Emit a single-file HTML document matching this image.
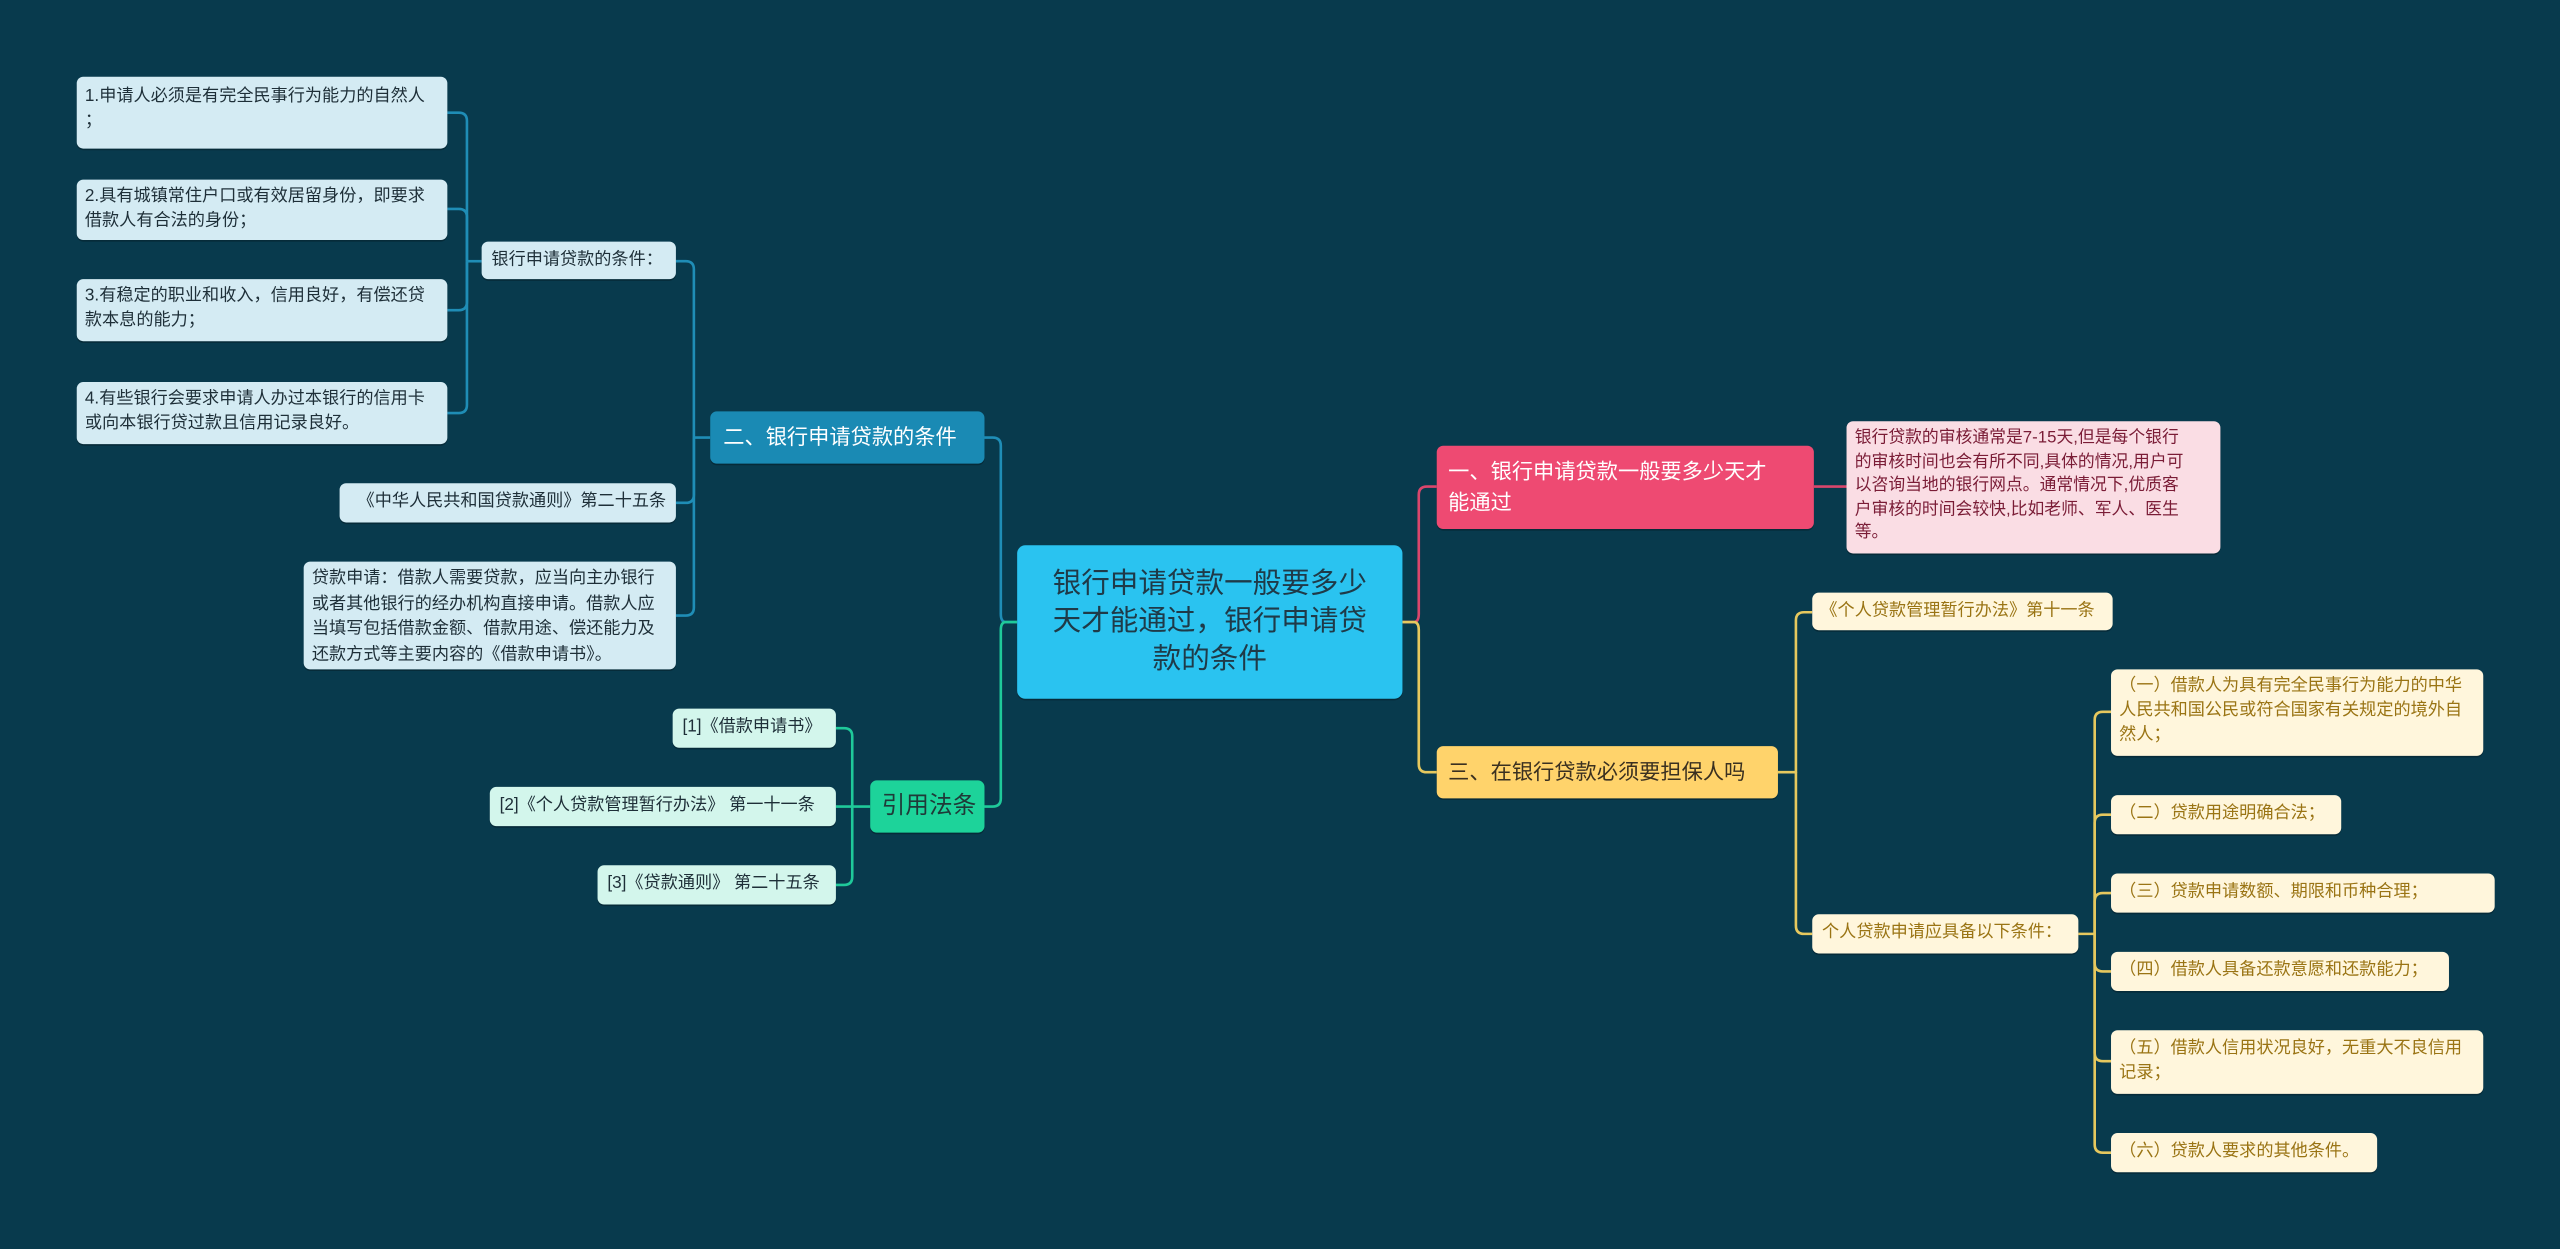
<!DOCTYPE html>
<html><head><meta charset="utf-8"><style>
html,body{margin:0;padding:0;background:#083a4d;width:2560px;height:1249px;overflow:hidden}
#c{position:absolute;left:0;top:0;width:1568px;height:765px;transform:scale(1.63265);transform-origin:0 0;font-family:"Liberation Sans","Noto Sans CJK SC",sans-serif}
.n{position:absolute;box-sizing:border-box;border-radius:4px;white-space:nowrap;font-size:10.5px;line-height:15px;padding:4px 6px;box-shadow:0 1px 0 rgba(0,0,0,.25)}
.lb{background:#d4ebf3;color:#1e2f38}
.y{background:#fff6dc;color:#9a7414}
.g{background:#d3f6ec;color:#1e2f38}
svg{position:absolute;left:0;top:0}
</style></head><body><div id="c">
<svg width="1568" height="765" fill="none" stroke-width="1.6" stroke-linejoin="round">
<!-- center to right -->
<path d="M859 381 H866 Q869 381 869 376 V303 Q869 298 874 298 H880" stroke="#d9466c"/>
<path d="M859 381 H866 Q869 381 869 386 V468 Q869 473 874 473 H880" stroke="#e6c85e"/>
<path d="M1111 298 H1131" stroke="#d9466c"/>
<!-- 三 children -->
<g stroke="#e6c85e">
<path d="M1089 473 H1100 V380 Q1100 375 1105 375 H1110"/>
<path d="M1100 473 V567 Q1100 572 1105 572 H1110"/>
<path d="M1273 572 H1283"/>
<path d="M1283 572 V441 Q1283 436 1288 436 H1293"/>
<path d="M1283 572 V504 Q1283 499 1288 499 H1293"/>
<path d="M1283 572 V552 Q1283 547 1288 547 H1293"/>
<path d="M1283 572 V590 Q1283 595 1288 595 H1293"/>
<path d="M1283 572 V645 Q1283 650 1288 650 H1293"/>
<path d="M1283 572 V701 Q1283 706 1288 706 H1293"/>
</g>
<!-- center to left -->
<path d="M623 381 H616 Q613 381 613 376 V273 Q613 268 608 268 H603" stroke="#1f8db6"/>
<path d="M623 381 H616 Q613 381 613 386 V489 Q613 494 608 494 H603" stroke="#1fc99a"/>
<g stroke="#1f8db6">
<path d="M435 268 H425"/>
<path d="M425 268 V165 Q425 160 420 160 H414"/>
<path d="M425 268 V303 Q425 308 420 308 H414"/>
<path d="M425 268 V372 Q425 377 420 377 H414"/>
<path d="M295 160 H286"/>
<path d="M286 160 V74 Q286 69 281 69 H274"/>
<path d="M286 160 V133 Q286 128 281 128 H274"/>
<path d="M286 160 V185 Q286 190 281 190 H274"/>
<path d="M286 160 V248 Q286 253 281 253 H274"/>
</g>
<g stroke="#1fc99a">
<path d="M533 494 H512"/>
<path d="M522 494 V451 Q522 446 517 446 H512"/>
<path d="M522 494 V537 Q522 542 517 542 H512"/>
</g>
</svg>

<div class="n" style="left:623px;top:334px;width:236px;height:94px;background:#2ac3f0;color:#1f3a48;font-size:17.5px;line-height:23px;text-align:center;padding:12px 10px;border-radius:5px">银行申请贷款一般要多少<br>天才能通过，银行申请贷<br>款的条件</div>

<div class="n" style="left:880px;top:273px;width:231px;height:51px;background:#ee4a72;color:#fff;font-size:13px;line-height:19px;padding:6px 7px">一、银行申请贷款一般要多少天才<br>能通过</div>
<div class="n" style="left:1131px;top:258px;width:229px;height:81px;background:#fadde4;color:#7a1c36;font-size:10.3px;line-height:14.6px;padding:4px 5px">银行贷款的审核通常是7-15天,但是每个银行<br>的审核时间也会有所不同,具体的情况,用户可<br>以咨询当地的银行网点。通常情况下,优质客<br>户审核的时间会较快,比如老师、军人、医生<br>等。</div>
<div class="n" style="left:880px;top:457px;width:209px;height:32px;background:#ffd36b;color:#3a3020;font-size:13px;line-height:20px;padding:6px 7px">三、在银行贷款必须要担保人吗</div>
<div class="n y" style="left:1110px;top:363px;width:184px;height:23px;padding:4px 5px">《个人贷款管理暂行办法》第十一条</div>
<div class="n y" style="left:1110px;top:560px;width:163px;height:24px;padding:4px 6px">个人贷款申请应具备以下条件：</div>
<div class="n y" style="left:1293px;top:410px;width:228px;height:53px;padding:3px 5px">（一）借款人为具有完全民事行为能力的中华<br>人民共和国公民或符合国家有关规定的境外自<br>然人；</div>
<div class="n y" style="left:1293px;top:487px;width:141px;height:24px;padding:4px 5px">（二）贷款用途明确合法；</div>
<div class="n y" style="left:1293px;top:535px;width:235px;height:24px;padding:4px 5px">（三）贷款申请数额、期限和币种合理；</div>
<div class="n y" style="left:1293px;top:583px;width:207px;height:24px;padding:4px 5px">（四）借款人具备还款意愿和还款能力；</div>
<div class="n y" style="left:1293px;top:631px;width:228px;height:39px;padding:4px 5px">（五）借款人信用状况良好，无重大不良信用<br>记录；</div>
<div class="n y" style="left:1293px;top:694px;width:163px;height:24px;padding:4px 5px">（六）贷款人要求的其他条件。</div>

<div class="n" style="left:435px;top:252px;width:168px;height:32px;background:#1a8ab4;color:#fff;font-size:13px;line-height:20px;padding:6px 8px">二、银行申请贷款的条件</div>
<div class="n lb" style="left:295px;top:148px;width:119px;height:23px;padding:4px 6px">银行申请贷款的条件：</div>
<div class="n lb" style="left:47px;top:47px;width:227px;height:44px;padding:5px 5px">1.申请人必须是有完全民事行为能力的自然人<br>；</div>
<div class="n lb" style="left:47px;top:110px;width:227px;height:37px;padding:3px 5px">2.具有城镇常住户口或有效居留身份，即要求<br>借款人有合法的身份；</div>
<div class="n lb" style="left:47px;top:171px;width:227px;height:38px;padding:3px 5px">3.有稳定的职业和收入，信用良好，有偿还贷<br>款本息的能力；</div>
<div class="n lb" style="left:47px;top:234px;width:227px;height:38px;padding:3px 5px">4.有些银行会要求申请人办过本银行的信用卡<br>或向本银行贷过款且信用记录良好。</div>
<div class="n lb" style="left:208px;top:296px;width:206px;height:24px;padding:4px 6px;text-align:right">《中华人民共和国贷款通则》第二十五条</div>
<div class="n lb" style="left:186px;top:344px;width:228px;height:66px;padding:3px 5px;line-height:15.5px">贷款申请：借款人需要贷款，应当向主办银行<br>或者其他银行的经办机构直接申请。借款人应<br>当填写包括借款金额、借款用途、偿还能力及<br>还款方式等主要内容的《借款申请书》。</div>

<div class="n" style="left:533px;top:478px;width:70px;height:32px;background:#1dd39a;color:#1f3a38;font-size:14.5px;line-height:22px;padding:5px 7px">引用法条</div>
<div class="n g" style="left:412px;top:434px;width:100px;height:24px;padding:4px 6px">[1]《借款申请书》</div>
<div class="n g" style="left:300px;top:482px;width:212px;height:24px;padding:4px 6px">[2]《个人贷款管理暂行办法》 第一十一条</div>
<div class="n g" style="left:366px;top:530px;width:146px;height:24px;padding:4px 6px">[3]《贷款通则》 第二十五条</div>
</div></body></html>
